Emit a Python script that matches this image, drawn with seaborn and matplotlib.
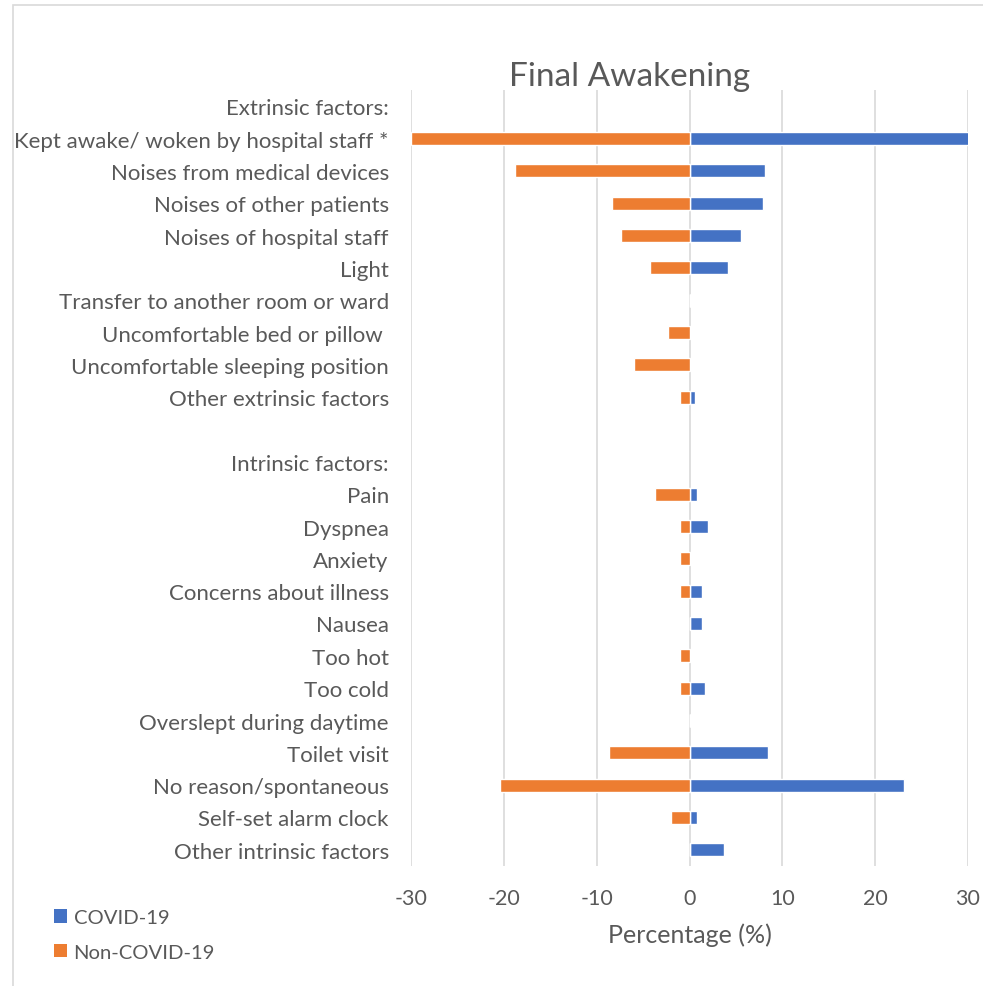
import numpy as np
import pandas as pd
import matplotlib
matplotlib.use("Agg")
import matplotlib.pyplot as plt
from matplotlib.patches import Rectangle, Patch
import seaborn as sns

# Reasons for the final awakening, top to bottom (header rows carry no data)
categories = [
    "Extrinsic factors:",
    "Kept awake/ woken by hospital staff *",
    "Noises from medical devices",
    "Noises of other patients",
    "Noises of hospital staff",
    "Light",
    "Transfer to another room or ward",
    "Uncomfortable bed or pillow ",
    "Uncomfortable sleeping position",
    "Other extrinsic factors",
    " ",
    "Intrinsic factors:",
    "Pain",
    "Dyspnea",
    "Anxiety",
    "Concerns about illness",
    "Nausea",
    "Too hot",
    "Too cold",
    "Overslept during daytime",
    "Toilet visit",
    "No reason/spontaneous",
    "Self-set alarm clock",
    "Other intrinsic factors",
]

# Percentages per group (NaN = header / spacer row)
covid = [np.nan, 30.1, 8.1, 7.9, 5.5, 4.2, 0.0, 0.0, 0.0, 0.6,
         np.nan, np.nan, 0.8, 2.0, 0.0, 1.4, 1.4, 0.0, 1.7, 0.0,
         8.5, 23.1, 0.8, 3.7]
non_covid = [np.nan, 30.0, 18.8, 8.4, 7.4, 4.3, 0.0, 2.3, 6.0, 1.0,
             np.nan, np.nan, 3.7, 1.0, 1.0, 1.0, 0.0, 1.0, 1.0, 0.0,
             8.7, 20.4, 2.0, 0.0]

groups = ["COVID-19", "Non-COVID-19"]
colors = {"COVID-19": "#4472C4", "Non-COVID-19": "#ED7D31"}
x_ticks = [-30, -20, -10, 0, 10, 20, 30]

df = pd.DataFrame({
    "Reason": categories * 2,
    "Percentage": list(covid) + [-v for v in non_covid],
    "Group": ["COVID-19"] * len(categories) + ["Non-COVID-19"] * len(categories),
})
df = df.dropna()

sns.set_style("white")
plt.rcParams["font.family"] = ["Lato", "DejaVu Sans"]
text_color = "#595959"
grid_color = "#D9D9D9"

W, H = 983, 987
fig = plt.figure(figsize=(W / 100, H / 100), dpi=100)

# Chart border (partially cropped at right and bottom)
fig.patches.append(Rectangle((13 / W, -0.1), 1.2, 1.1 - 6 / H,
                             transform=fig.transFigure, fill=False,
                             edgecolor=grid_color, linewidth=1.2))

left, right = 411 / W, 968 / W
top, bottom = 1 - 91 / H, 1 - 867 / H
ax = fig.add_axes([left, bottom, right - left, top - bottom])

sns.barplot(data=df, y="Reason", x="Percentage", hue="Group", order=categories,
            hue_order=groups, palette=colors, saturation=1, dodge=False,
            width=0.4, orient="h", edgecolor="white", linewidth=1.0, ax=ax,
            legend=False, zorder=3)

ax.set_xlim(-30, 30)
ax.set_ylim(len(categories) - 0.5, -0.5)
ax.set_xticks(x_ticks)
ax.set_xticklabels([str(t) for t in x_ticks])
ax.grid(axis="x", color=grid_color, linewidth=1.2, zorder=0)
ax.set_axisbelow(True)
for s in ax.spines.values():
    s.set_visible(False)
ax.tick_params(axis="y", length=0, pad=16, labelsize=16, labelcolor=text_color)
ax.tick_params(axis="x", length=0, pad=16, labelsize=15.5, labelcolor=text_color)
ax.set_ylabel("")
ax.set_xlabel("Percentage (%)", fontsize=18, color=text_color, labelpad=10)

fig.text(630 / W, 1 - 77 / H, "Final Awakening", ha="center", va="center",
         fontsize=24, color=text_color)

handles = [Patch(facecolor=colors[g], edgecolor="none") for g in groups]
fig.legend(handles, groups, loc="center left", bbox_to_anchor=(36 / W, 1 - 936 / H),
           frameon=False, fontsize=14.6, labelcolor=text_color,
           handlelength=0.65, handleheight=0.65, handletextpad=0.3,
           labelspacing=0.85)

fig.savefig("out.png", dpi=100)
